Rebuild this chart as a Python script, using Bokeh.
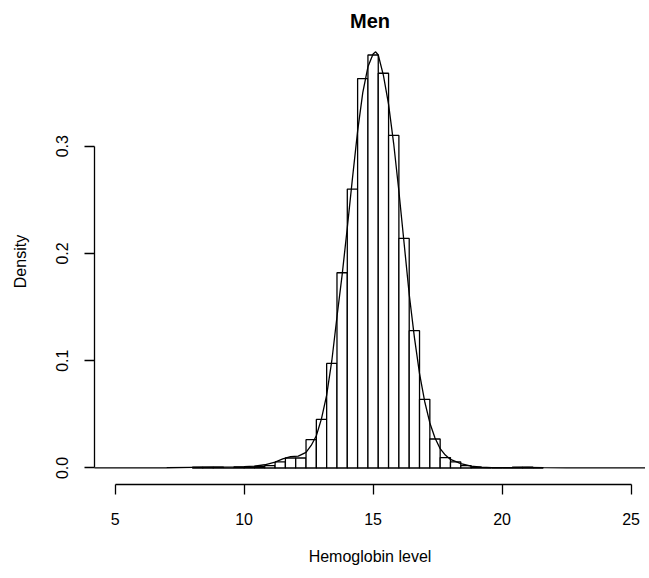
from bokeh.plotting import figure
from bokeh.models import Range1d, FixedTicker, NumeralTickFormatter
from bokeh.embed import file_html
from bokeh.resources import INLINE

# ---- data ----
bin_width = 0.4
bin_left = [8.0, 8.4, 8.8, 9.2, 9.6, 10.0, 10.4, 10.8, 11.2, 11.6, 12.0, 12.4,
            12.8, 13.2, 13.6, 14.0, 14.4, 14.8, 15.2, 15.6, 16.0, 16.4, 16.8,
            17.2, 17.6, 18.0, 18.4, 18.8, 19.2, 19.6, 20.0, 20.4, 20.8, 21.2]
bin_density = [0.0007, 0.0007, 0.0007, 0.0, 0.0007, 0.0007, 0.0014, 0.0022,
               0.0056, 0.0093, 0.0093, 0.0264, 0.0453, 0.0975, 0.182, 0.260,
               0.363, 0.385, 0.368, 0.310, 0.214, 0.128, 0.064, 0.027, 0.0097,
               0.0056, 0.0022, 0.0007, 0.0, 0.0, 0.0, 0.0007, 0.0007, 0.0]

curve_x = [3.0, 6.0, 7.0, 8.0, 8.8, 9.6, 10.0, 10.4, 10.8, 11.2, 11.5, 11.8,
           12.1, 12.4, 12.6, 12.8, 13.0, 13.2, 13.4, 13.6, 13.8, 14.0, 14.2,
           14.4, 14.6, 14.8, 15.0, 15.1, 15.2, 15.4, 15.6, 15.8, 16.0, 16.2,
           16.4, 16.6, 16.8, 17.0, 17.2, 17.4, 17.6, 17.8, 18.0, 18.4, 18.8,
           19.2, 19.6, 20.4, 21.0, 21.6, 22.5, 27.0]
curve_y = [0.0, 0.0001, 0.0002, 0.0006, 0.0008, 0.001, 0.0012, 0.0018, 0.003,
           0.0055, 0.0085, 0.0105, 0.011, 0.0145, 0.021, 0.030, 0.046, 0.068,
           0.100, 0.141, 0.180, 0.224, 0.270, 0.314, 0.350, 0.374, 0.386,
           0.388, 0.385, 0.366, 0.339, 0.302, 0.258, 0.210, 0.162, 0.122,
           0.088, 0.062, 0.042, 0.028, 0.018, 0.012, 0.008, 0.004, 0.0018,
           0.0007, 0.0003, 0.0003, 0.0005, 0.0003, 0.0001, 0.0]

x_ticks = [5, 10, 15, 20, 25]
y_ticks = [0.0, 0.1, 0.2, 0.3]
title_text = "Men"
x_title = "Hemoglobin level"
y_title = "Density"

FONT = "Liberation Sans"

bin_right = [b + bin_width for b in bin_left]
bin_bottom = [0.0] * len(bin_left)

p = figure(width=645, height=574, output_backend="svg", toolbar_location=None,
           title=title_text,
           x_range=Range1d(4.2, 25.56), y_range=Range1d(-0.0154, 0.4004),
           min_border_left=94, min_border_right=0, min_border_top=38,
           min_border_bottom=90)
p.outline_line_color = None
p.grid.visible = False
p.background_fill_color = "white"
p.border_fill_color = "white"

p.title.align = "center"
p.title.text_font = FONT
p.title.text_font_size = "20px"
p.title.text_font_style = "bold"
p.title.text_color = "black"
p.title.standoff = 14

p.quad(left=bin_left, right=bin_right, bottom=bin_bottom, top=bin_density,
       fill_color="white", line_color="black", line_width=1.3)
p.line(curve_x, curve_y, line_color="black", line_width=1.3)

for ax in (p.xaxis[0], p.yaxis[0]):
    ax.major_tick_out = 10
    ax.major_tick_in = 0
    ax.minor_tick_line_color = None
    ax.axis_line_width = 1.3
    ax.major_tick_line_width = 1.3
    ax.axis_line_color = "black"
    ax.major_tick_line_color = "black"
    ax.major_label_text_font = FONT
    ax.major_label_text_font_size = "16px"
    ax.major_label_text_color = "black"
    ax.axis_label_text_font = FONT
    ax.axis_label_text_font_size = "16px"
    ax.axis_label_text_font_style = "normal"
    ax.axis_label_text_color = "black"

p.xaxis.ticker = FixedTicker(ticks=x_ticks)
p.xaxis.bounds = (5, 25)
p.xaxis.axis_label = x_title
p.xaxis.major_label_standoff = 18
p.xaxis.axis_label_standoff = 20

p.yaxis.ticker = FixedTicker(ticks=y_ticks)
p.yaxis.bounds = (0, 0.3)
p.yaxis.formatter = NumeralTickFormatter(format="0.0")
p.yaxis.major_label_orientation = "parallel"
p.yaxis.axis_label = y_title
p.yaxis.major_label_standoff = 16
p.yaxis.axis_label_standoff = 25

open("out.html", "w").write(file_html(p, INLINE))
